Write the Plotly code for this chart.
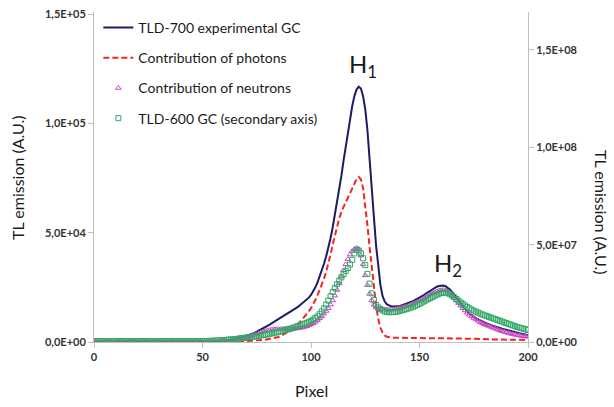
import plotly.graph_objects as go

pixel = list(range(201))

tld700 = [100] * 50 + [
    150, 150, 200, 200, 250, 300, 350, 400, 450, 500,
    600, 750, 900, 1050, 1200, 1400, 1600, 1800, 2100, 2400,
    2700, 3000, 3400, 3800, 4200, 4700, 5200, 5700, 6200, 6800,
    7400, 8000, 8600, 9200, 9800, 10400, 11000, 11600, 12200, 12800,
    13400, 14000, 14700, 15400, 16100, 16900, 17700, 18500, 19300, 20300,
    21500, 23000, 25000, 27300, 29900, 32700, 35800, 39200, 43000, 47500,
    52500, 58000, 63500, 69500, 76000, 83000, 89500, 96000, 102500, 108000,
    112500, 115500, 116800, 116000, 112500, 106500, 97000, 85000, 71000, 57000,
    44000, 33500, 26000, 21000, 18500, 17200, 16600, 16300, 16200, 16200,
    16300, 16500, 16800, 17100, 17500, 17900, 18300, 18700, 19200, 19700,
    20300, 20900, 21500, 22200, 22900, 23600, 24200, 24800, 25300, 25600,
    25800, 25800, 25500, 24900, 24000, 22900, 21600, 20200, 18800, 17400,
    16100, 14900, 13900, 13000, 12200, 11500, 10900, 10300, 9800, 9300,
    8900, 8500, 8100, 7700, 7300, 7000, 6700, 6400, 6100, 5800,
    5500, 5200, 5000, 4700, 4500, 4200, 4000, 3800, 3600, 3400, 3200,
]

photons = [50] * 50 + [
    50, 50, 50, 50, 50, 60, 70, 80, 90, 100,
    120, 140, 160, 180, 200, 230, 260, 300, 340, 380,
    420, 470, 520, 580, 640, 700, 780, 860, 950, 1050,
    1300, 1450, 1600, 1800, 2000, 2300, 2700, 3200, 3700, 4200,
    4800, 5500, 6300, 7200, 8200, 9300, 10400, 11500, 12700, 14000,
    15500, 17200, 19200, 21400, 23800, 26300, 29000, 32200, 35800, 40000,
    44500, 49000, 53000, 56500, 59500, 62000, 64000, 66000, 68000, 70000,
    72500, 74500, 75500, 74500, 70500, 63000, 53500, 43500, 33500, 24500,
    16500, 10500, 6500, 4200, 3000, 2400, 2100, 2000, 2000, 1950,
    1950, 1900, 1900, 1900, 1850, 1850, 1850, 1800, 1800, 1800,
    1800, 1800, 1800, 1850, 1850, 1900, 1900, 1900, 1850, 1850,
    1800, 1800, 1750, 1750, 1700, 1700, 1650, 1650, 1600, 1600,
    1550, 1550, 1500, 1500, 1450, 1450, 1400, 1400, 1350, 1350,
    1300, 1300, 1250, 1250, 1200, 1200, 1200, 1150, 1150, 1100,
    1100, 1100, 1050, 1050, 1000, 1000, 1000, 950, 950, 900, 900,
]

neutrons = [100] * 50 + [
    100, 100, 100, 120, 140, 160, 180, 200, 230, 260,
    300, 350, 400, 500, 650, 800, 1000, 1200, 1450, 1700,
    2000, 2300, 2650, 3000, 3350, 3700, 4050, 4400, 4750, 5050,
    5300, 5500, 5650, 5750, 5850, 5900, 5950, 6000, 6000, 6000,
    6000, 6000, 6050, 6150, 6300, 6450, 6650, 6900, 7200, 7600,
    8100, 8600, 9200, 9900, 10800, 11800, 13000, 14200, 15500, 17100,
    19000, 21200, 23800, 26800, 30000, 32800, 35500, 37900, 40000, 41600,
    42500, 43000, 42500, 39500, 35500, 30500, 26000, 22000, 19000, 17000,
    15800, 15200, 15000, 15000, 14900, 14800, 14800, 14800, 14900, 15100,
    15300, 15500, 15800, 16100, 16400, 16700, 17100, 17500, 17900, 18400,
    18900, 19400, 19900, 20500, 21100, 21700, 22300, 22800, 23200, 23500,
    23700, 23800, 23600, 23100, 22300, 21300, 20200, 19000, 17800, 16600,
    15500, 14400, 13400, 12500, 11700, 11000, 10300, 9700, 9100, 8600,
    8100, 7700, 7300, 6900, 6500, 6100, 5700, 5300, 5000, 4700,
    4400, 4100, 3800, 3600, 3400, 3200, 3000, 2800, 2600, 2500, 2400,
]

tld600 = [400000] * 50 + [
    450000, 500000, 500000, 550000, 600000, 650000, 700000, 750000, 800000, 900000,
    1000000, 1100000, 1200000, 1300000, 1400000, 1500000, 1650000, 1800000, 1950000, 2100000,
    2250000, 2400000, 2550000, 2700000, 2850000, 3000000, 3200000, 3400000, 3600000, 3800000,
    4000000, 4200000, 4450000, 4700000, 4950000, 5200000, 5500000, 5800000, 6100000, 6400000,
    6700000, 7000000, 7400000, 7800000, 8200000, 8600000, 9000000, 9400000, 9800000, 10300000,
    10800000, 11500000, 12300000, 13200000, 14300000, 15700000, 17300000, 19200000, 21300000, 23500000,
    25700000, 27800000, 29700000, 31500000, 33200000, 34800000, 36400000, 38000000, 39800000, 42200000,
    45500000, 47300000, 47000000, 45500000, 43000000, 39500000, 35000000, 30000000, 25000000, 21500000,
    19000000, 17800000, 16900000, 16200000, 15700000, 15400000, 15300000, 15300000, 15400000, 15500000,
    15700000, 16000000, 16300000, 16600000, 16900000, 17300000, 17700000, 18100000, 18600000, 19100000,
    19600000, 20200000, 20800000, 21400000, 22000000, 22600000, 23200000, 23800000, 24300000, 24800000,
    25200000, 25400000, 25400000, 25100000, 24500000, 23800000, 23000000, 22100000, 21200000, 20300000,
    19500000, 18700000, 18000000, 17300000, 16700000, 16100000, 15600000, 15100000, 14600000, 14100000,
    13700000, 13300000, 12900000, 12500000, 12100000, 11700000, 11300000, 10900000, 10500000, 10100000,
    9700000, 9300000, 8900000, 8500000, 8100000, 7700000, 7400000, 7100000, 6800000, 6500000, 6200000,
]

x_ticks = [0, 50, 100, 150, 200]
y1_ticks = [0, 50000, 100000, 150000]
y1_labels = ["0,0E+00", "5,0E+04", "1,0E+05", "1,5E+05"]
y2_ticks = [0, 50000000, 100000000, 150000000]
y2_labels = ["0,0E+00", "5,0E+07", "1,0E+08", "1,5E+08"]

FONT = "Lato, 'Open Sans', sans-serif"
AXC = "#bfbfbf"
TICKFONT = dict(family=FONT, size=11, color="#333333", weight="bold")

fig = go.Figure()
fig.add_trace(go.Scatter(x=pixel, y=tld700, mode="lines", name="TLD-700 experimental GC",
                         line=dict(color="#1c1c63", width=2), legendgroup="a"))
fig.add_trace(go.Scatter(x=pixel, y=photons, mode="lines", name="Contribution of photons",
                         line=dict(color="#f42424", width=2, dash="6px,3px"), legendgroup="b"))
fig.add_trace(go.Scatter(x=pixel, y=neutrons, mode="markers", name="Contribution of neutrons",
                         marker=dict(symbol="triangle-up-open", size=5, color="#cc44c4",
                                     line=dict(width=1)), legendgroup="c"))
fig.add_trace(go.Scatter(x=pixel, y=tld600, mode="markers", name="TLD-600 GC (secondary axis)",
                         marker=dict(symbol="square-open", size=5, color="#33a866",
                                     line=dict(width=1)), yaxis="y2", legendgroup="d"))

fig.update_layout(
    width=614, height=407,
    margin=dict(l=94, r=86, t=12, b=65),
    paper_bgcolor="white", plot_bgcolor="white",
    font=dict(family=FONT, size=11, color="#262626"),
    showlegend=True,
    legend=dict(x=0.01, y=1.0, xanchor="left", yanchor="top",
                font=dict(family=FONT, size=14, color="#1a1a1a"),
                bgcolor="rgba(0,0,0,0)", tracegroupgap=9, traceorder="grouped"),
    xaxis=dict(range=[0, 200], tickvals=x_ticks, showline=True, linecolor=AXC, linewidth=1,
               ticks="outside", ticklen=5, tickcolor=AXC, showgrid=False, zeroline=False,
               tickfont=TICKFONT, automargin=False),
    yaxis=dict(range=[0, 151000], tickvals=y1_ticks, ticktext=y1_labels, showline=True,
               linecolor=AXC, linewidth=1, ticks="outside", ticklen=5, tickcolor=AXC,
               showgrid=False, zeroline=False, tickfont=TICKFONT, automargin=False),
    yaxis2=dict(range=[0, 169500000], tickvals=y2_ticks, ticktext=y2_labels, overlaying="y",
                side="right", showline=True, linecolor=AXC, linewidth=1, ticks="outside",
                ticklen=5, tickcolor=AXC, showgrid=False, zeroline=False,
                tickfont=TICKFONT, automargin=False),
)

titles = [
    dict(text="TL emission (A.U.)", px=17, py=178, angle=-90),
    dict(text="TL emission (A.U.)", px=602, py=212, angle=90),
    dict(text="Pixel", px=311, py=390, angle=0),
]
for a in titles:
    fig.add_annotation(x=(a["px"] - 94) / 434, y=(342 - a["py"]) / 330, xref="paper", yref="paper",
                       text=a["text"], showarrow=False, textangle=a["angle"],
                       xanchor="center", yanchor="middle",
                       font=dict(family=FONT, size=16, color="#1a1a1a"))

fig.add_annotation(x=124, y=126500, xref="x", yref="y", text="H<sub>1</sub>", showarrow=False,
                   font=dict(family=FONT, size=24, color="#1a1a1a"))
fig.add_annotation(x=163, y=35500, xref="x", yref="y", text="H<sub>2</sub>", showarrow=False,
                   font=dict(family=FONT, size=24, color="#1a1a1a"))

fig.write_html("out.html", config={"displayModeBar": False},
               post_script="document.body.style.margin='0';")
